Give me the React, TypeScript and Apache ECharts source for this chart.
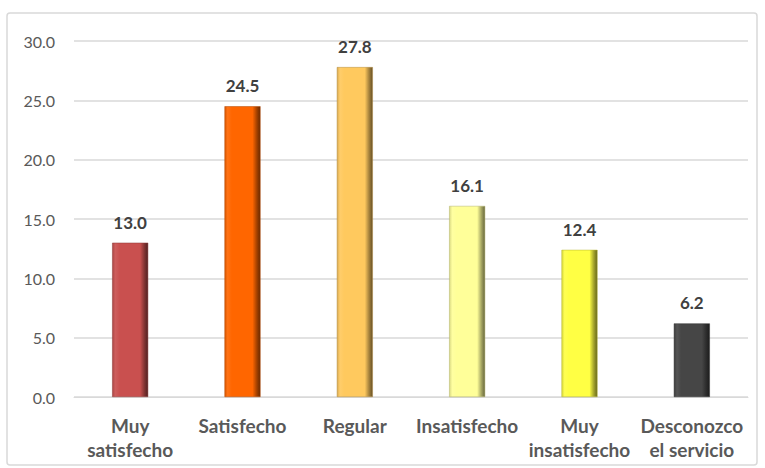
import React, { useEffect, useRef } from "react";
import * as echarts from "echarts";

const categories = ["Muy\nsatisfecho", "Satisfecho", "Regular", "Insatisfecho", "Muy\ninsatisfecho", "Desconozco\nel servicio"];
const values = [13.0, 24.5, 27.8, 16.1, 12.4, 6.2];
const barColors = ["#c9504f", "#ff6600", "#ffc95e", "#ffff99", "#ffff44", "#464646"];
const yTicks = { min: 0, max: 30, interval: 5 };

function shade(hex: string, f: number) {
  const n = parseInt(hex.slice(1), 16);
  let r = (n >> 16) & 255, g = (n >> 8) & 255, b = n & 255;
  if (f < 0) { r = Math.round(r * (1 + f)); g = Math.round(g * (1 + f)); b = Math.round(b * (1 + f)); }
  else { r = Math.round(r + (255 - r) * f); g = Math.round(g + (255 - g) * f); b = Math.round(b + (255 - b) * f); }
  return `rgb(${r},${g},${b})`;
}

export default function App() {
  const ref = useRef<HTMLDivElement>(null);
  useEffect(() => {
    const chart = echarts.init(ref.current!, null, { renderer: "svg" });
    chart.setOption({
      animation: false,
      backgroundColor: "#ffffff",
      graphic: [
        { type: "rect", shape: { x: 7, y: 13, width: 750, height: 452, r: 3 }, style: { fill: "none", stroke: "#d9d9d9", lineWidth: 1.5 }, z: -1 },
      ],
      grid: { left: 74, right: 17, top: 41, bottom: 71 },
      xAxis: {
        type: "category",
        data: categories,
        axisLine: { show: true, lineStyle: { color: "#d9d9d9", width: 1 } },
        axisTick: { show: false },
        axisLabel: { color: "#595959", fontFamily: "Lato", fontWeight: "bold", fontSize: 19, lineHeight: 24, margin: 16, interval: 0 },
      },
      yAxis: {
        type: "value",
        min: yTicks.min, max: yTicks.max, interval: yTicks.interval,
        axisLine: { show: false },
        axisTick: { show: false },
        splitLine: { lineStyle: { color: "#d9d9d9", width: 1.5 } },
        axisLabel: { color: "#595959", fontFamily: "Lato", fontSize: 16, margin: 19, formatter: (v: number) => v.toFixed(1) },
      },
      series: [
        {
          type: "bar",
          barWidth: 36,
          data: values.map((v, i) => ({
            value: v,
            itemStyle: {
              color: new echarts.graphic.LinearGradient(0, 0, 1, 0, [
                { offset: 0, color: shade(barColors[i], -0.15) },
                { offset: 0.08, color: shade(barColors[i], 0.08) },
                { offset: 0.2, color: barColors[i] },
                { offset: 0.78, color: barColors[i] },
                { offset: 0.9, color: shade(barColors[i], -0.35) },
                { offset: 1, color: shade(barColors[i], -0.6) },
              ]),
              borderColor: shade(barColors[i], -0.3),
              borderWidth: 0.5,
            },
          })),
          label: {
            show: true, position: "top", distance: 12,
            color: "#404040", fontFamily: "Lato", fontWeight: "bold", fontSize: 17,
            formatter: (p: any) => Number(p.value).toFixed(1),
          },
        },
      ],
    });
    return () => chart.dispose();
  }, []);
  return <div ref={ref} style={{ position: "fixed", left: 0, top: 0, width: 765, height: 468 }} />;
}
